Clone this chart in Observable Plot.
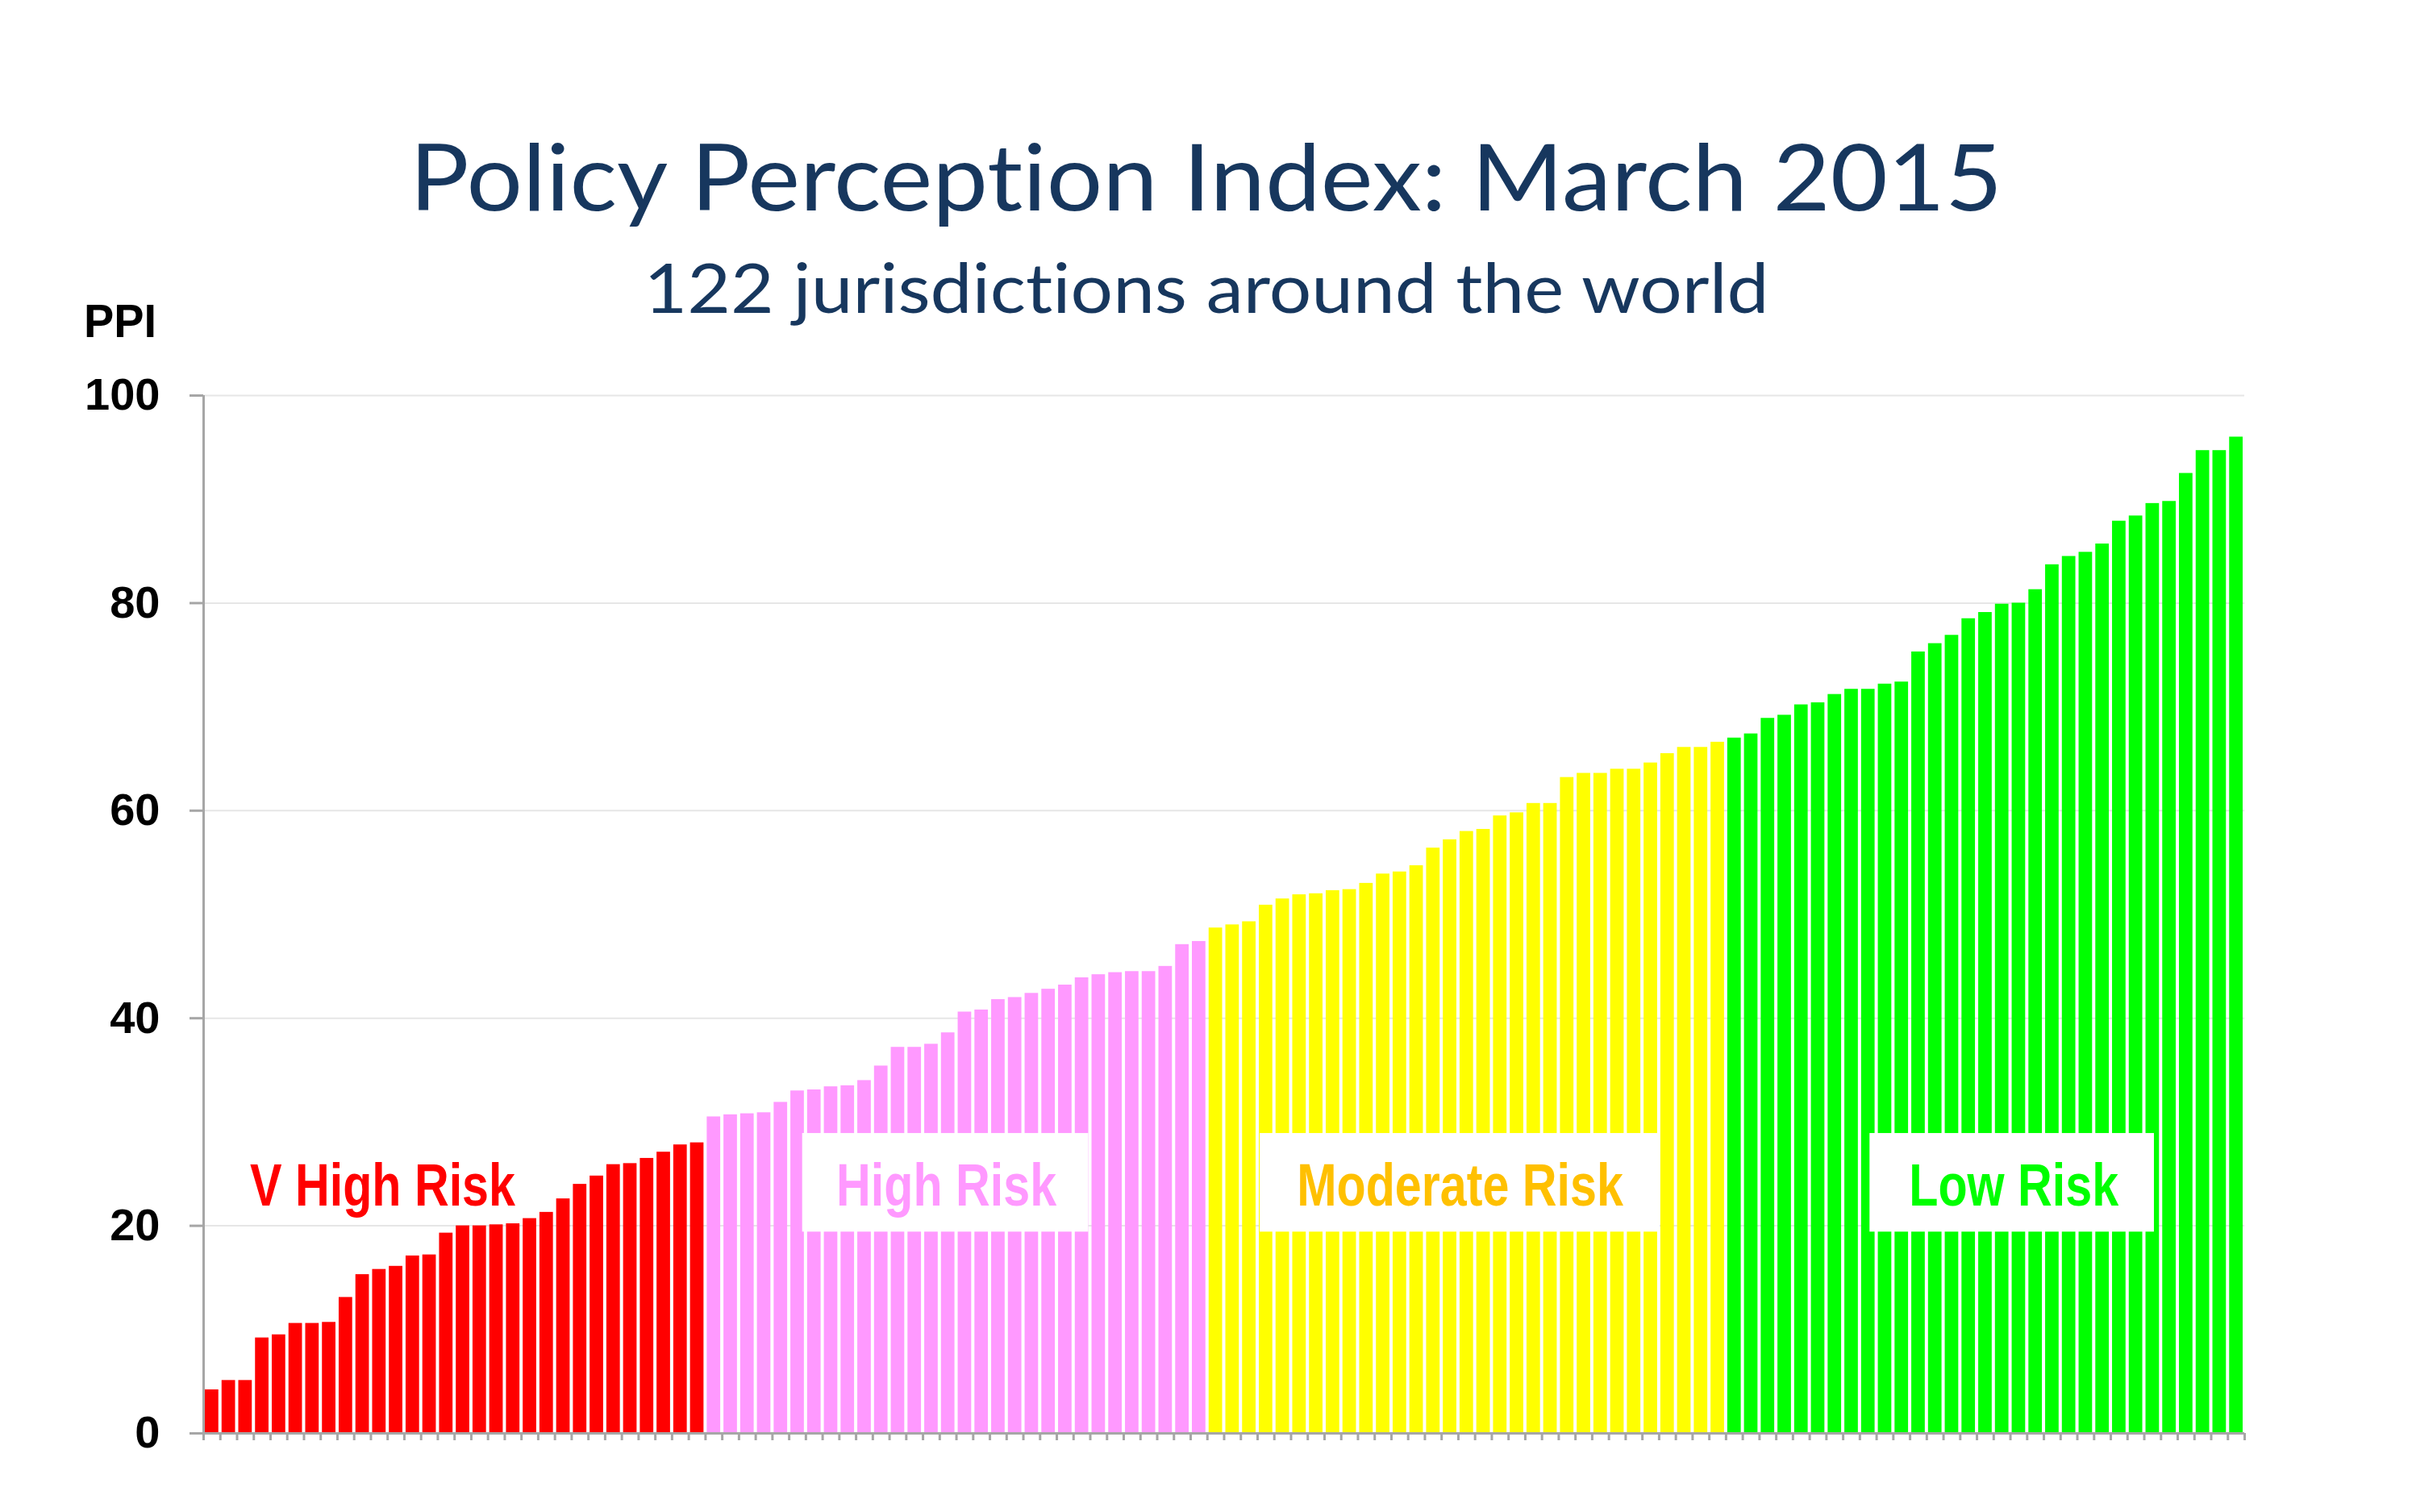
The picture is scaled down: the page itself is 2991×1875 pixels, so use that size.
<!DOCTYPE html>
<html>
<head>
<meta charset="utf-8">
<script src="https://cdn.jsdelivr.net/npm/d3@7"></script>
<script src="https://cdn.jsdelivr.net/npm/@observablehq/plot@0.6"></script>
<style>
  html, body { margin: 0; padding: 0; background: #ffffff; }
  #wrap { position: relative; width: 2991px; height: 1875px; overflow: hidden; background: #fff; }
  #wrap svg { position: absolute; left: 0; top: 0; z-index: 1; }
  .txt { position: absolute; left: 0; width: 2991px; text-align: center; white-space: nowrap; line-height: normal; z-index: 5;
         font-variant-ligatures: none; font-feature-settings: "liga" 0, "clig" 0, "dlig" 0; }
  .txt span.inner { display: inline-block; transform-origin: 50% 50%; }
  #title { font-family: Lato, "Open Sans", sans-serif; font-size: 114px; color: #17375E; top: 150px; }
  #subtitle { font-family: Lato, "Open Sans", sans-serif; font-size: 86px; color: #17375E; top: 300px; }
  #ppi { position: absolute; left: 104px; top: 360px; font-family: "Liberation Sans", Arial, sans-serif; font-weight: bold; font-size: 58px; color: #000; white-space: nowrap; line-height: normal; z-index: 5; }
  #ppi span.inner { display: inline-block; }
</style>
</head>
<body>
<div id="wrap">
  <div id="title" class="txt"><span class="inner">Policy Perception Index: March 2015</span></div>
  <div id="subtitle" class="txt"><span class="inner">122 jurisdictions around the world</span></div>
  <div id="ppi"><span class="inner">PPI</span></div>
</div>
<script>
// ---------------- data ----------------
const groupNames = ["V High Risk", "High Risk", "Moderate Risk", "Low Risk"];
const groupCounts = [30, 30, 31, 31];

const veryHighRisk = [4.2, 5.1, 5.1, 9.2, 9.5, 10.6, 10.6, 10.7, 13.1, 15.3, 15.8, 16.1, 17.1, 17.2, 19.3,
  20.0, 20.0, 20.1, 20.2, 20.7, 21.3, 22.6, 24.0, 24.8, 25.9, 26.0, 26.5, 27.1, 27.8, 28.0];
const highRisk = [30.5, 30.7, 30.8, 30.9, 31.9, 33.0, 33.1, 33.4, 33.5, 34.0, 35.4, 37.2, 37.2, 37.5, 38.6,
  40.6, 40.8, 41.8, 42.0, 42.4, 42.8, 43.2, 43.9, 44.2, 44.4, 44.5, 44.5, 45.0, 47.1, 47.4];
const moderateRisk = [48.7, 49.0, 49.3, 50.9, 51.5, 51.9, 52.0, 52.3, 52.4, 53.0, 53.9, 54.1, 54.7, 56.4, 57.2,
  58.0, 58.2, 59.5, 59.8, 60.7, 60.7, 63.2, 63.6, 63.6, 64.0, 64.0, 64.6, 65.5, 66.1, 66.1, 66.6];
const lowRisk = [67.0, 67.4, 68.9, 69.2, 70.2, 70.4, 71.2, 71.7, 71.7, 72.2, 72.4, 75.3, 76.1, 76.9, 78.5,
  79.1, 79.9, 80.0, 81.3, 83.7, 84.5, 84.9, 85.7, 87.9, 88.4, 89.6, 89.8, 92.5, 94.7, 94.7, 96.0];

const yTicks = [0, 20, 40, 60, 80, 100];

// ---------------- styles ----------------
const barColors = ["#FF0000", "#FF99FF", "#FFFF00", "#00FF00"];
const labelColors = ["#FF0000", "#FF99FF", "#FFC000", "#00FF00"];
const axisGray = "#A6A6A6";

// build table
const seriesList = [veryHighRisk, highRisk, moderateRisk, lowRisk];
const data = [];
seriesList.forEach((arr, g) => arr.forEach(v => data.push({i: data.length, v, group: groupNames[g]})));
const n = data.length;

const W = 2991, H = 1875;
const mLeft = 252, mRight = 208, mTop = 490, mBottom = 98;

const chart = Plot.plot({
  width: W,
  height: H,
  marginLeft: mLeft,
  marginRight: mRight,
  marginTop: mTop,
  marginBottom: mBottom,
  style: {fontFamily: "'Liberation Sans', Arial, sans-serif", background: "transparent", overflow: "visible"},
  x: {type: "linear", domain: [0, n], axis: null, label: null},
  y: {domain: [0, 100], axis: null, label: null},
  color: {domain: groupNames, range: barColors},
  marks: [
    Plot.gridY(yTicks.filter(d => d > 0), {stroke: "#E6E6E6", strokeOpacity: 1, strokeWidth: 2}),
    Plot.rectY(data, {x1: d => d.i, x2: d => d.i + 1, y1: 0, y2: "v", fill: "group", insetLeft: 2, insetRight: 2}),
    // white label boxes (annotations)
    Plot.rect([0, 1, 2], {x1: [35.8, 63.15, 99.6], x2: [52.9, 87.05, 116.6], y1: 19.4, y2: 28.9, fill: "white"}),
    Plot.text(groupNames, {
      x: [10.7, 44.4, 75.1, 108.2], y: 23.8, text: d => d,
      fill: d => labelColors[groupNames.indexOf(d)],
      fontFamily: "'Liberation Sans', Arial, sans-serif",
      fontWeight: "bold", fontSize: 74, textAnchor: "middle", className: "risklabel"
    }),
    Plot.axisY({ticks: yTicks, tickSize: 17, tickPadding: 37, stroke: axisGray, strokeWidth: 3, label: null,
      fill: "#000", fontSize: 56, fontWeight: "bold", tickFormat: d => String(d)}),
    Plot.axisX({ticks: d3.range(0, n + 1), tickSize: 9, stroke: axisGray, strokeWidth: 3, label: null, tickFormat: () => ""}),
    Plot.ruleX([0], {y1: 0, y2: 100, stroke: axisGray, strokeWidth: 3}),
    Plot.ruleY([0], {stroke: axisGray, strokeWidth: 3})
  ]
});
document.getElementById("wrap").appendChild(chart);

// condense the risk labels horizontally (the reference uses a narrow bold face)
d3.select(chart).selectAll(".risklabel text").each(function() {
  const t = this.getAttribute("transform");
  if (t) {
    this.setAttribute("transform", t + " scale(0.8,1)");
  } else {
    const x = +this.getAttribute("x") || 0, y = +this.getAttribute("y") || 0;
    this.removeAttribute("x"); this.removeAttribute("y");
    this.setAttribute("transform", `translate(${x},${y}) scale(0.8,1)`);
  }
});

// place HTML text by baseline and width
function place(id, baselineY, targetWidth, leftAnchor) {
  const el = document.getElementById(id);
  const inner = el.querySelector(".inner");
  const marker = document.createElement("span");
  marker.style.cssText = "display:inline-block;width:0;height:0;vertical-align:baseline;";
  el.appendChild(marker);
  const top0 = parseFloat(getComputedStyle(el).top);
  const wr = document.getElementById("wrap").getBoundingClientRect();
  const m = marker.getBoundingClientRect();
  el.style.top = (top0 + baselineY - (m.top - wr.top)) + "px";
  if (targetWidth) {
    inner.style.transform = "none";
    const w = inner.getBoundingClientRect().width;
    const s = targetWidth / w;
    if (s > 0.6 && s < 1.5) {
      inner.style.transformOrigin = leftAnchor ? "0 50%" : "50% 50%";
      inner.style.transform = `scaleX(${s})`;
    }
  }
}
function layout() {
  place("title", 261, 1975);
  place("subtitle", 388, 1395);
  place("ppi", 418, 90, true);
}
if (document.fonts && document.fonts.ready) document.fonts.ready.then(layout); else layout();
</script>
</body>
</html>
